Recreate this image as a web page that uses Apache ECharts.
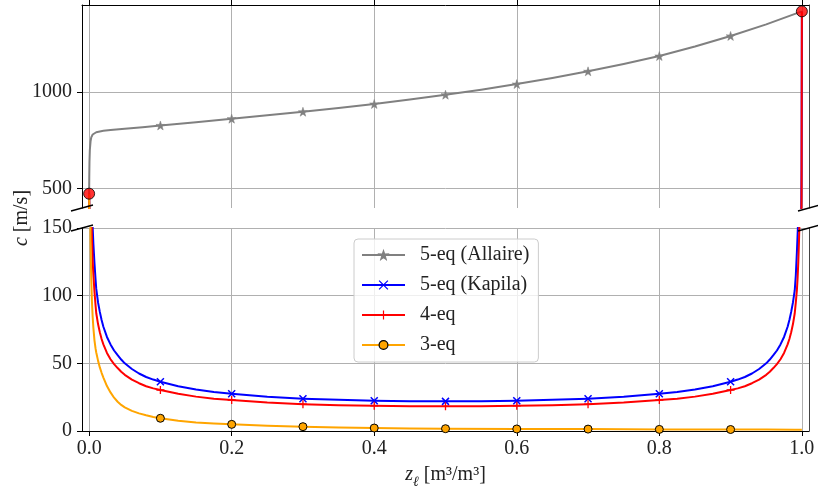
<!DOCTYPE html>
<html>
<head>
<meta charset="utf-8">
<script src="https://cdn.jsdelivr.net/npm/echarts@6/dist/echarts.min.js"></script>
<style>html,body{margin:0;padding:0;background:#fff}#c{width:818px;height:491px}</style>
</head>
<body>
<div id="c"></div>
<script>
// ---------------- data ----------------
const seriesNames = ['5-eq (Allaire)', '5-eq (Kapila)', '4-eq', '3-eq'];
const xTicks = [0, 0.2, 0.4, 0.6, 0.8, 1.0];
const topYTicks = [500, 1000];
const markerZ = [0.1, 0.2, 0.3, 0.4, 0.5, 0.6, 0.7, 0.8, 0.9];

const zAllaire = [0, 0.0002, 0.0005, 0.001, 0.002, 0.003, 0.005, 0.0075, 0.01, 0.015, 0.02, 0.03, 0.05, 0.075,
  0.1, 0.15, 0.2, 0.25, 0.3, 0.35, 0.4, 0.45, 0.5, 0.55, 0.6, 0.65, 0.7, 0.75, 0.8, 0.85, 0.9, 0.95, 1.0];
const cAllaire = [474, 560, 640, 700, 745, 765, 780, 788, 792, 796, 799, 803, 810, 818,
  827, 844, 862, 880, 898, 917, 938, 961, 986, 1012, 1041, 1072, 1107, 1145, 1186, 1235, 1290, 1350, 1417];

const zMix = [0, 0.0005, 0.001, 0.0015, 0.002, 0.003, 0.004, 0.005, 0.006, 0.0075, 0.009, 0.01, 0.0125, 0.015, 0.0175,
  0.02, 0.025, 0.03, 0.035, 0.04, 0.045, 0.05, 0.06, 0.07, 0.08, 0.09,
  0.1, 0.125, 0.15, 0.175, 0.2, 0.25, 0.3, 0.35, 0.4, 0.45, 0.5, 0.55, 0.6, 0.65, 0.7, 0.75, 0.8, 0.825, 0.85, 0.875, 0.9,
  0.91, 0.92, 0.93, 0.94, 0.95, 0.955, 0.96, 0.965, 0.97, 0.975, 0.98, 0.9825, 0.985, 0.9875, 0.99, 0.9915, 0.993,
  0.994, 0.995, 0.996, 0.997, 0.998, 0.999, 0.9995, 1.0];
const cKapila = [474, 380, 300, 260, 230, 195, 170, 150, 138, 124, 112, 105, 95, 88, 82,
  77, 69.5, 64, 59.5, 56, 52.8, 50, 45.8, 42.5, 39.9, 38.0,
  36.4, 33.1, 30.6, 28.8, 27.5, 25.3, 23.9, 23.0, 22.4, 22.0, 21.9, 22.0, 22.4, 23.0, 23.9, 25.3, 27.5, 28.8, 30.6, 33.1, 36.4,
  38.0, 39.9, 42.5, 45.8, 50, 52.8, 56, 59.5, 64, 69.5, 77, 82, 88, 95, 104, 115, 132,
  145, 158, 175, 200, 245, 346, 600, 1417];
const c4eq = [474, 330, 250, 215, 190, 162, 141, 125, 115, 103, 93, 87, 79, 73, 68,
  64, 57.7, 53, 49.4, 46.5, 43.8, 41.5, 38.0, 35.3, 33.1, 31.5,
  30.3, 27.5, 25.4, 23.9, 22.9, 21.0, 19.8, 19.1, 18.6, 18.3, 18.2, 18.3, 18.6, 19.1, 19.8, 21.0, 22.9, 23.9, 25.4, 27.5, 30.3,
  31.5, 33.1, 35.3, 38.0, 41.5, 43.8, 46.5, 49.4, 53, 57.7, 64, 68, 73, 79, 87, 95, 104,
  113, 125, 141, 162, 190, 250, 450, 1417];

const z3eq = [0, 0.0005, 0.001, 0.0015, 0.002, 0.003, 0.004, 0.005, 0.006, 0.0075, 0.009, 0.01, 0.0125, 0.015, 0.0175,
  0.02, 0.025, 0.03, 0.035, 0.04, 0.045, 0.05, 0.06, 0.07, 0.08, 0.09,
  0.1, 0.125, 0.15, 0.175, 0.2, 0.25, 0.3, 0.35, 0.4, 0.45, 0.5, 0.6, 0.7, 0.8, 0.9, 0.95, 0.99, 1.0];
const c3eq = [474, 330, 230, 175, 140, 112, 95, 84, 76, 67, 61, 58, 52, 47, 43,
  39.5, 33.2, 28.5, 24.6, 21.6, 19.3, 17.5, 14.9, 13.0, 11.6, 10.4,
  9.4, 7.6, 6.3, 5.5, 4.9, 3.9, 3.2, 2.6, 2.2, 1.9, 1.7, 1.5, 1.4, 1.2, 1.1, 1.05, 1.0, 1.0];

const zPure = [0, 1];
const cPure = [474, 1417];

// ---------------- layout ----------------
const GL = 82, GR = 9, W = 818;
const TOP1 = 5, H = 203, TOP2 = 228;
const FONT = 'Liberation Serif';
const TXT = '#222';

const STAR = 'path://M50,0L61.8,35.1L97.6,34.5L68.8,56.2L79.4,90.5L50,70L20.6,90.5L31.2,56.2L2.4,34.5L38.2,35.1Z';
const XMARK = 'path://M0,0L10,10M10,0L0,10';
const PLUS = 'path://M5,0L5,10M0,5L10,5';

function lineData(xs, ys) {
  return xs.map((x, i) => {
    const item = { value: [x, ys[i]] };
    if (!markerZ.some(m => Math.abs(m - x) < 1e-9)) item.symbol = 'none';
    return item;
  });
}

const styles = {
  '5-eq (Allaire)': { color: '#808080', symbol: STAR, symbolSize: 9, itemStyle: { color: '#808080', borderColor: '#808080', borderWidth: 0.5 } },
  '5-eq (Kapila)': { color: '#0000ff', symbol: XMARK, symbolSize: 7, itemStyle: { color: '#0000ff', borderColor: '#0000ff', borderWidth: 1.5 } },
  '4-eq': { color: '#ff0000', symbol: PLUS, symbolSize: 8, itemStyle: { color: '#ff0000', borderColor: '#ff0000', borderWidth: 1.3 } },
  '3-eq': { color: '#ffa500', symbol: 'circle', symbolSize: 8, itemStyle: { color: '#ffa500', borderColor: '#000', borderWidth: 1 } }
};

function mkLine(name, xs, ys, xi, yi) {
  const s = styles[name];
  return {
    type: 'line', name, xAxisIndex: xi, yAxisIndex: yi,
    data: lineData(xs, ys),
    symbol: s.symbol, symbolSize: s.symbolSize, showSymbol: true,
    color: s.color,
    itemStyle: s.itemStyle,
    lineStyle: { color: s.color, width: 2, join: 'round' },
    smooth: false,
    clip: true, animation: false, silent: true, z: 2
  };
}

const axisLineStyle = { color: '#000', width: 1 };
const gridLine = { show: true, lineStyle: { color: '#b0b0b0', width: 1 } };
const labelStyle = { fontFamily: FONT, fontSize: 20, color: TXT };

const option = {
  backgroundColor: '#fff',
  animation: false,
  grid: [
    { left: GL, right: GR, top: TOP1, height: H },
    { left: GL, right: GR, top: TOP2, height: H }
  ],
  xAxis: [
    { gridIndex: 0, type: 'value', min: -0.01, max: 1.01, position: 'top',
      axisLine: { show: true, onZero: false, lineStyle: axisLineStyle },
      axisTick: { show: true, length: 5, customValues: xTicks, lineStyle: axisLineStyle },
      axisLabel: { show: false, customValues: xTicks },
      splitLine: gridLine },
    { gridIndex: 1, type: 'value', min: -0.01, max: 1.01, position: 'bottom',
      axisLine: { show: true, onZero: false, lineStyle: axisLineStyle },
      axisTick: { show: true, length: 5, customValues: xTicks, lineStyle: axisLineStyle },
      axisLabel: Object.assign({ show: true, customValues: xTicks, margin: 8, formatter: v => v.toFixed(1) }, labelStyle),
      splitLine: gridLine }
  ],
  yAxis: [
    { gridIndex: 0, type: 'value', min: 400, max: 1450, position: 'left',
      axisLine: { show: true, onZero: false, lineStyle: axisLineStyle },
      axisTick: { show: true, length: 5, customValues: topYTicks, lineStyle: axisLineStyle },
      axisLabel: Object.assign({ show: true, customValues: topYTicks, margin: 10, formatter: v => String(v) }, labelStyle),
      splitLine: gridLine },
    { gridIndex: 0, type: 'value', min: 400, max: 1450, position: 'right',
      axisLine: { show: true, onZero: false, lineStyle: { color: '#444', width: 1 } },
      axisTick: { show: false }, axisLabel: { show: false }, splitLine: { show: false } },
    { gridIndex: 1, type: 'value', min: 0, max: 150, interval: 50, position: 'left',
      axisLine: { show: true, onZero: false, lineStyle: axisLineStyle },
      axisTick: { show: true, length: 5, lineStyle: axisLineStyle },
      axisLabel: Object.assign({ show: true, margin: 10, formatter: v => String(v) }, labelStyle),
      splitLine: gridLine },
    { gridIndex: 1, type: 'value', min: 0, max: 150, interval: 50, position: 'right',
      axisLine: { show: true, onZero: false, lineStyle: { color: '#444', width: 1 } },
      axisTick: { show: false }, axisLabel: { show: false }, splitLine: { show: false } }
  ],
  legend: {
    data: seriesNames,
    orient: 'vertical',
    left: 354, top: 239,
    padding: [6, 9, 7, 7],
    itemWidth: 43, itemHeight: 11, itemGap: 10,
    backgroundColor: 'rgba(255,255,255,0.8)',
    borderColor: '#cccccc', borderWidth: 1, borderRadius: 4,
    itemStyle: { borderWidth: 1.2 },
    lineStyle: { width: 2 },
    textStyle: { fontFamily: FONT, fontSize: 20, color: TXT, lineHeight: 20, padding: [0, 0, 0, 10] },
    selectedMode: false,
    z: 10
  },
  series: [
    mkLine('5-eq (Allaire)', zAllaire, cAllaire, 0, 0),
    mkLine('5-eq (Kapila)', zMix, cKapila, 0, 0),
    mkLine('4-eq', zMix, c4eq, 0, 0),
    mkLine('3-eq', z3eq, c3eq, 0, 0),
    mkLine('5-eq (Kapila)', zMix, cKapila, 1, 2),
    mkLine('4-eq', zMix, c4eq, 1, 2),
    mkLine('3-eq', z3eq, c3eq, 1, 2),
    { type: 'scatter', name: 'pure', xAxisIndex: 0, yAxisIndex: 0,
      data: zPure.map((x, i) => [x, cPure[i]]),
      symbol: 'circle', symbolSize: 11,
      itemStyle: { color: '#ff0000', borderColor: '#000', borderWidth: 1 },
      clip: false, silent: true, z: 5 }
  ],
  graphic: [
    ...[[GL, TOP1 + H], [GL, TOP2], [W - GR, TOP1 + H], [W - GR, TOP2]].map(p => ({
      type: 'line', z: 100, silent: true,
      shape: { x1: p[0] - 11, y1: p[1] + 3, x2: p[0] + 11, y2: p[1] - 3 },
      style: { stroke: '#000', lineWidth: 1.3 }
    })),
    { type: 'text', z: 100, silent: true,
      x: GL + (W - GL - GR) / 2, y: 477,
      style: {
        text: '{i|z}{s|ℓ}{n| [m³/m³]}',
        align: 'center', verticalAlign: 'middle',
        rich: {
          i: { fontFamily: FONT, fontSize: 20, fontStyle: 'italic', fill: TXT, verticalAlign: 'bottom', padding: [0, 0, 5, 0] },
          s: { fontFamily: FONT, fontSize: 14, fontStyle: 'italic', fill: TXT, verticalAlign: 'bottom' },
          n: { fontFamily: FONT, fontSize: 20, fill: TXT, verticalAlign: 'bottom', padding: [0, 0, 5, 0] }
        }
      } },
    { type: 'text', z: 100, silent: true,
      x: 22, y: TOP1 + H + (TOP2 - TOP1 - H) / 2, rotation: Math.PI / 2,
      style: {
        text: '{i|c}{n| [m/s]}',
        align: 'center', verticalAlign: 'middle',
        rich: {
          i: { fontFamily: FONT, fontSize: 20, fontStyle: 'italic', fill: TXT },
          n: { fontFamily: FONT, fontSize: 20, fill: TXT }
        }
      } }
  ]
};

const chart = echarts.init(document.getElementById('c'), null, { renderer: 'canvas' });
chart.setOption(option);
</script>
</body>
</html>
